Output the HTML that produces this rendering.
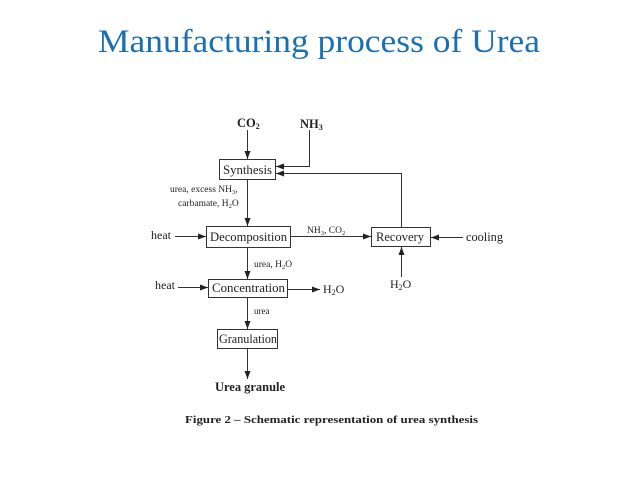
<!DOCTYPE html>
<html><head><meta charset="utf-8"><style>html,body{margin:0;padding:0;background:#fff}svg{display:block}</style></head>
<body>
<svg width="638" height="479" viewBox="0 0 638 479" xmlns="http://www.w3.org/2000/svg" font-family="Liberation Serif, serif">
<defs><marker id="a" markerWidth="8" markerHeight="6" refX="8" refY="3" orient="auto" markerUnits="userSpaceOnUse"><path d="M0,0 L8,3 L0,6 z" fill="#222"/></marker></defs>
<text x="98" y="52" font-size="33" fill="#1a6fb5" textLength="442" lengthAdjust="spacingAndGlyphs">Manufacturing process of Urea</text>
<g stroke="#333" stroke-width="1" fill="none">
<rect x="219.5" y="159.5" width="56" height="20"/>
<rect x="206.5" y="226.5" width="84" height="21"/>
<rect x="371.5" y="227.5" width="59" height="19"/>
<rect x="208.5" y="279.5" width="79" height="18"/>
<rect x="217.5" y="329.5" width="60" height="19"/>
<path d="M247.5 130 V159" marker-end="url(#a)"/>
<path d="M309.5 130 V166.5 H276" marker-end="url(#a)"/>
<path d="M401.5 227 V173.5 H276" marker-end="url(#a)"/>
<path d="M247.5 180 V226" marker-end="url(#a)"/>
<path d="M175 236.5 H206" marker-end="url(#a)"/>
<path d="M291 236.5 H371" marker-end="url(#a)"/>
<path d="M463 237.5 H431" marker-end="url(#a)"/>
<path d="M401.5 277 V247" marker-end="url(#a)"/>
<path d="M247.5 248 V279" marker-end="url(#a)"/>
<path d="M178 287.5 H208" marker-end="url(#a)"/>
<path d="M288 289.5 H320" marker-end="url(#a)"/>
<path d="M247.5 298 V329" marker-end="url(#a)"/>
<path d="M247.5 349 V379" marker-end="url(#a)"/>
</g>
<g fill="#222">
<text x="237" y="127" font-size="12.5" font-weight="bold">CO<tspan font-size="8" dy="2">2</tspan></text>
<text x="300" y="128" font-size="12.5" font-weight="bold">NH<tspan font-size="8" dy="2">3</tspan></text>
<text x="223" y="174" font-size="12.5" textLength="49" lengthAdjust="spacingAndGlyphs">Synthesis</text>
<text x="170" y="192" font-size="9.5">urea, excess NH<tspan font-size="6.5" dy="2">3</tspan><tspan dy="-2">,</tspan></text>
<text x="178" y="206" font-size="9.5">carbamate, H<tspan font-size="6.5" dy="2">2</tspan><tspan dy="-2">O</tspan></text>
<text x="151" y="239" font-size="12">heat</text>
<text x="210" y="241" font-size="12.5" textLength="77" lengthAdjust="spacingAndGlyphs">Decomposition</text>
<text x="307" y="233" font-size="9.5">NH<tspan font-size="6.5" dy="2">3</tspan><tspan dy="-2">, CO</tspan><tspan font-size="6.5" dy="2">2</tspan></text>
<text x="376" y="241" font-size="12.5" textLength="48" lengthAdjust="spacingAndGlyphs">Recovery</text>
<text x="466" y="241" font-size="12.5" textLength="37" lengthAdjust="spacingAndGlyphs">cooling</text>
<text x="390" y="288" font-size="12">H<tspan font-size="8" dy="2">2</tspan><tspan dy="-2">O</tspan></text>
<text x="254" y="267" font-size="9.5">urea, H<tspan font-size="6.5" dy="2">2</tspan><tspan dy="-2">O</tspan></text>
<text x="155" y="289" font-size="12">heat</text>
<text x="212" y="292" font-size="12.5" textLength="73" lengthAdjust="spacingAndGlyphs">Concentration</text>
<text x="323" y="293" font-size="12">H<tspan font-size="8" dy="2">2</tspan><tspan dy="-2">O</tspan></text>
<text x="254" y="314" font-size="9">urea</text>
<text x="219" y="343" font-size="12.5" textLength="58" lengthAdjust="spacingAndGlyphs">Granulation</text>
<text x="215" y="391" font-size="12.5" font-weight="bold" textLength="70" lengthAdjust="spacingAndGlyphs">Urea granule</text>
<text x="185" y="423" font-size="11" font-weight="bold" textLength="293" lengthAdjust="spacingAndGlyphs">Figure 2 – Schematic representation of urea synthesis</text>
</g>
</svg>
</body></html>
